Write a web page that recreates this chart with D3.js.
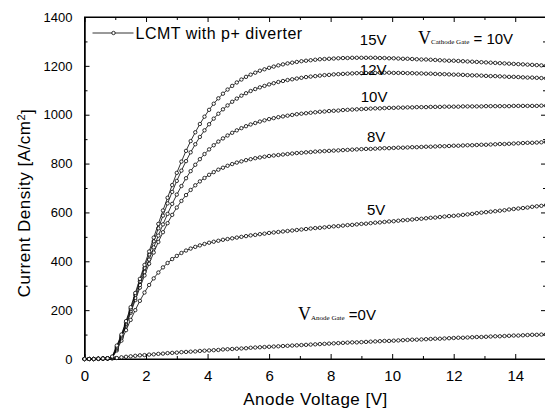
<!DOCTYPE html>
<html>
<head>
<meta charset="utf-8">
<script src="https://cdn.jsdelivr.net/npm/d3@7"></script>
<style>
  body { margin: 0; background: #fff; }
  text { font-family: "Liberation Sans", Arial, sans-serif; fill: #000; }
  .axis path, .axis line { stroke: #000; stroke-width: 1; }
  .serif { font-family: "Liberation Serif", "Times New Roman", serif; }
</style>
</head>
<body>
<div id="chart"></div>
<script>
// anode voltage [V]
var voltage = [0,0.15,0.3,0.45,0.6,0.75,0.9,1.05,1.2,1.35,1.5,1.65,1.8,1.95,2.1,2.25,2.4,2.55,2.7,2.85,
  3,3.15,3.3,3.45,3.6,3.75,3.9,4.05,4.2,4.35,4.5,4.65,4.8,4.95,5.1,5.25,5.4,5.55,5.7,5.85,
  6,6.15,6.3,6.45,6.6,6.75,6.9,7.05,7.2,7.35,7.5,7.65,7.8,7.95,8.1,8.25,8.4,8.55,8.7,8.85,
  9,9.15,9.3,9.45,9.6,9.75,9.9,10.05,10.2,10.35,10.5,10.65,10.8,10.95,11.1,11.25,11.4,11.55,11.7,11.85,
  12,12.15,12.3,12.45,12.6,12.75,12.9,13.05,13.2,13.35,13.5,13.65,13.8,13.95,14.1,14.25,14.4,14.55,14.7,14.85,15];

// current density [A/cm2] for each anode gate voltage
var j15 = [0,0,0,1,2,3,10,55,100,155,212,270,328,385,440,497,553,608,660,712,
  762,808,852,892,928,962,992,1020,1045,1067,1086,1103,1118,1132,1144,1155,1164,1172,1180,1186,
  1192,1197,1202,1206,1210,1213,1216,1219,1221,1223,1225,1227,1228,1229,1230,1231,1232,1232,1233,1233,
  1233,1233,1233,1233,1232,1232,1231,1231,1230,1229,1229,1228,1227,1226,1226,1225,1224,1223,1222,1221,
  1221,1220,1219,1218,1217,1216,1215,1214,1213,1212,1211,1210,1209,1208,1207,1206,1205,1204,1203,1202,1201];
var j12 = [0,0,0,1,2,3,8,50,95,150,205,262,318,373,428,482,535,587,637,684,
  729,771,810,846,879,909,936,961,984,1004,1022,1038,1053,1066,1078,1088,1097,1105,1112,1118,
  1124,1129,1134,1138,1142,1145,1148,1151,1154,1156,1158,1160,1162,1163,1165,1166,1167,1168,1169,1170,
  1170,1171,1171,1171,1172,1172,1172,1171,1171,1171,1170,1170,1169,1169,1168,1168,1167,1166,1166,1165,
  1164,1164,1163,1162,1161,1161,1160,1159,1158,1158,1157,1156,1155,1155,1154,1153,1152,1152,1151,1150,1149];
var j10 = [0,0,0,1,2,3,7,45,90,143,196,250,303,356,407,457,505,551,594,635,
  673,708,740,769,795,818,839,858,875,890,903,915,926,936,945,953,960,966,972,977,
  982,986,990,993,996,999,1002,1004,1006,1008,1010,1012,1013,1015,1016,1017,1019,1020,1021,1022,
  1023,1024,1025,1026,1026,1027,1028,1028,1029,1029,1030,1030,1031,1031,1031,1032,1032,1032,1033,1033,
  1033,1033,1034,1034,1034,1034,1034,1035,1035,1035,1035,1035,1035,1036,1036,1036,1036,1036,1036,1037,1037];
var j8 = [0,0,0,1,2,3,6,40,85,137,189,241,292,342,390,436,479,519,556,590,
  620,647,671,692,711,727,741,754,765,775,783,791,798,804,809,814,818,822,825,828,
  831,833,835,837,839,841,843,844,846,847,849,850,851,852,853,854,855,856,857,858,
  859,860,860,861,862,863,863,864,865,865,866,867,867,868,869,869,870,871,871,872,
  873,873,874,875,875,876,877,877,878,879,880,880,881,882,883,884,885,885,886,887,888];
var j5 = [0,0,0,1,2,3,5,35,75,118,160,200,238,272,303,330,354,375,393,409,
  422,434,444,452,459,465,471,476,480,484,488,491,494,497,500,503,506,508,511,513,
  516,518,520,522,524,526,528,530,532,534,536,537,539,541,543,544,546,548,549,551,
  553,554,556,558,559,561,563,564,566,568,569,571,573,574,576,578,579,581,583,585,
  586,588,590,592,594,597,599,601,603,605,607,609,612,614,616,618,620,623,625,627,630];
var j0 = [0,0,0,0,1,1,2,4,7,9,11,13,15,16,18,19,21,22,24,25,
  26,28,29,30,31,33,34,35,36,37,39,40,41,42,43,44,46,47,48,49,
  50,51,52,53,54,55,56,57,58,59,60,61,62,63,64,65,66,67,68,68,
  69,70,71,72,73,74,74,75,76,77,78,79,79,80,81,82,83,83,84,85,
  86,87,87,88,89,90,90,91,92,93,93,94,95,96,96,97,98,99,99,100,101];

var series = [j0, j5, j8, j10, j12, j15];

// curve labels: text, anode voltage, current density where the label sits
var curveLabels = ["15V", "12V", "10V", "8V", "5V"];
var labelX = [8.95, 8.95, 8.98, 9.18, 9.18];
var labelY = [1285, 1163, 1052, 888, 589];

var xTicks = [0, 2, 4, 6, 8, 10, 12, 14];
var yTicks = [0, 200, 400, 600, 800, 1000, 1200, 1400];

// dimensions
var margin = {top: 17, right: -1, bottom: 51, left: 84.5},
    width = 545 - margin.left - margin.right,
    height = 410 - margin.top - margin.bottom;

var svg = d3.select("#chart")
    .append("svg")
      .attr("width", 545)
      .attr("height", 410)
      .style("display", "block")
    .append("g")
      .attr("transform", "translate(" + margin.left + "," + margin.top + ")");

var xScale = d3.scaleLinear().domain([0, 15]).range([0, width]);
var yScale = d3.scaleLinear().domain([0, 1400]).range([height, 0]);

// major and minor ticks, pointing inside the frame
function drawAxis(axisFn, transform, scale, values, size, labels) {
  var g = svg.append("g")
      .attr("class", "axis")
      .attr("transform", transform)
      .call(axisFn(scale).tickValues(values).tickSizeInner(size).tickSizeOuter(0)
        .tickFormat(labels ? d3.format("d") : ""));
  return g;
}
var xMinor = d3.range(1, 15, 2);
var yMinor = d3.range(100, 1400, 200);

var xb = drawAxis(d3.axisBottom, "translate(0," + height + ")", xScale, xTicks, -5, true);
drawAxis(d3.axisBottom, "translate(0," + height + ")", xScale, xMinor, -3, false);
drawAxis(d3.axisTop, "translate(0,0)", xScale, xTicks, -5, false);
drawAxis(d3.axisTop, "translate(0,0)", xScale, xMinor, -3, false);
var yl = drawAxis(d3.axisLeft, "translate(0,0)", yScale, yTicks, -5, true);
drawAxis(d3.axisLeft, "translate(0,0)", yScale, yMinor, -3, false);
drawAxis(d3.axisRight, "translate(" + width + ",0)", yScale, yTicks, -5, false);
drawAxis(d3.axisRight, "translate(" + width + ",0)", yScale, yMinor, -3, false);

xb.selectAll("text").attr("y", 11).attr("dy", "0.71em").style("font-size", "15px");
yl.selectAll("text").attr("x", -12).style("font-size", "13px");

// frame
svg.append("rect")
  .attr("width", width).attr("height", height)
  .attr("fill", "none").attr("stroke", "#000");

// curves
var line = d3.line()
  .x(function(d, i) { return xScale(voltage[i]); })
  .y(function(d) { return yScale(d); });

series.forEach(function(s) {
  svg.append("path")
    .datum(s)
    .attr("fill", "none")
    .attr("stroke", "#000")
    .attr("stroke-width", 0.8)
    .attr("d", line);

  svg.append("g").selectAll("circle")
    .data(s)
    .enter().append("circle")
      .attr("cx", function(d, i) { return xScale(voltage[i]); })
      .attr("cy", function(d) { return yScale(d); })
      .attr("r", 1.7)
      .attr("fill", "#fff")
      .attr("stroke", "#000")
      .attr("stroke-width", 0.8);
});

// curve labels
curveLabels.forEach(function(t, i) {
  svg.append("text")
    .attr("x", xScale(labelX[i]))
    .attr("y", yScale(labelY[i]))
    .style("font-size", "15px")
    .text(t);
});

// cathode gate note
var cg = svg.append("text")
  .attr("x", xScale(10.84))
  .attr("y", yScale(1290))
  .style("font-size", "15px");
cg.append("tspan").attr("class", "serif").style("font-size", "18px").text("V");
cg.append("tspan").attr("class", "serif").style("font-size", "7px").text("Cathode Gate");
cg.append("tspan").text(" = 10V");

// anode gate note
var ag = svg.append("text")
  .attr("x", xScale(6.94))
  .attr("y", yScale(160))
  .style("font-size", "15px");
ag.append("tspan").attr("class", "serif").style("font-size", "18px").text("V");
ag.append("tspan").attr("class", "serif").style("font-size", "7px").text("Anode Gate");
ag.append("tspan").text(" =0V");

// legend
var legend = svg.append("g").attr("transform", "translate(8,16)");
legend.append("line")
  .attr("x1", 0).attr("x2", 41)
  .attr("stroke", "#000").attr("stroke-width", 0.8);
legend.append("circle")
  .attr("cx", 21).attr("r", 1.7)
  .attr("fill", "#fff").attr("stroke", "#000").attr("stroke-width", 0.8);
legend.append("text")
  .attr("x", 43).attr("dy", "0.35em")
  .style("font-size", "16px")
  .style("letter-spacing", "0.5px")
  .text("LCMT with p+ diverter");

// axis titles
svg.append("text")
  .attr("x", 231 - margin.left + 84.5)
  .attr("y", height + 46)
  .style("text-anchor", "middle")
  .style("font-size", "17px")
  .style("letter-spacing", "0.5px")
  .text("Anode Voltage [V]");

var yt = svg.append("text")
  .attr("transform", "translate(" + (30 - margin.left) + "," + (203 - margin.top) + ") rotate(-90)")
  .style("text-anchor", "middle")
  .style("font-size", "17px")
  .style("letter-spacing", "0.5px");
yt.append("tspan").text("Current Density [A/cm");
yt.append("tspan").attr("dy", "-0.5em").style("font-size", "11px").text("2");
yt.append("tspan").attr("dy", "0.5em").text("]");
</script>
</body>
</html>
